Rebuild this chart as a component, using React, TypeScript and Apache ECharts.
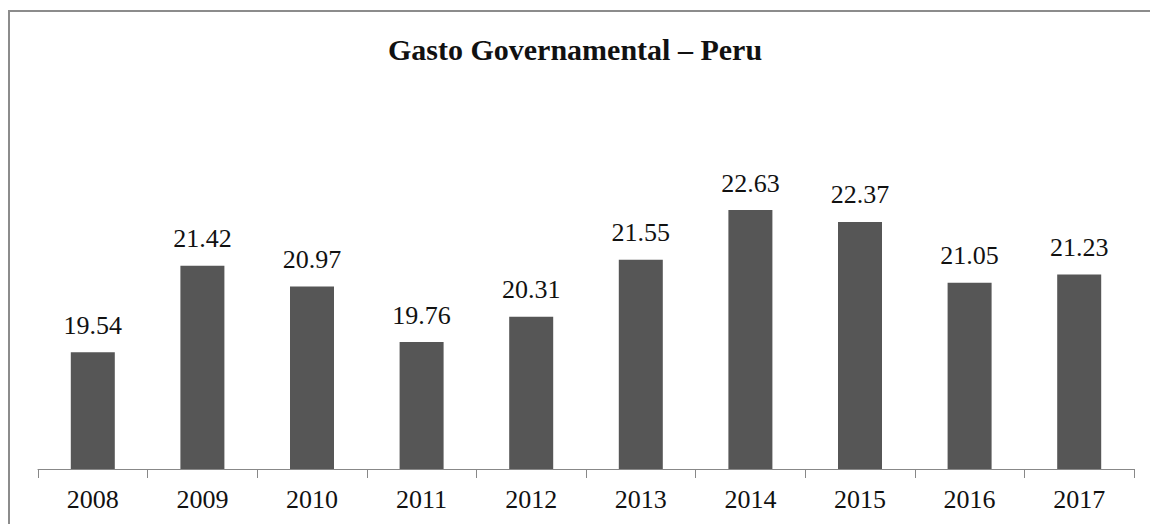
import React, { useEffect, useRef } from "react";
import * as echarts from "echarts";

const titleText = "Gasto Governamental – Peru";
const years = ["2008", "2009", "2010", "2011", "2012", "2013", "2014", "2015", "2016", "2017"];
const spending = [19.54, 21.42, 20.97, 19.76, 20.31, 21.55, 22.63, 22.37, 21.05, 21.23];

const serif = "Liberation Serif";

export default function App() {
  const ref = useRef<HTMLDivElement>(null);
  useEffect(() => {
    if (!ref.current) return;
    const chart = echarts.init(ref.current, undefined, { renderer: "svg" });
    chart.setOption({
      animation: false,
      backgroundColor: "#ffffff",
      title: {
        text: titleText,
        left: "center",
        top: 29,
        textStyle: { fontFamily: serif, fontSize: 30, fontWeight: "bold", color: "#111" },
      },
      graphic: [
        { type: "line", shape: { x1: 8, y1: 11, x2: 1150, y2: 11 }, style: { stroke: "#8c8c8c", lineWidth: 2 } },
        { type: "line", shape: { x1: 9, y1: 11, x2: 9, y2: 524 }, style: { stroke: "#8c8c8c", lineWidth: 2 } },
      ],
      grid: { left: 38, right: 16, top: 193, bottom: 55, containLabel: false },
      xAxis: {
        type: "category",
        data: years,
        boundaryGap: true,
        axisLine: { show: true, lineStyle: { color: "#888", width: 1 } },
        axisTick: { show: true, alignWithLabel: false, length: 9, lineStyle: { color: "#888" } },
        axisLabel: { fontFamily: serif, fontSize: 26, color: "#111", margin: 17 },
      },
      yAxis: {
        type: "value",
        min: 17,
        max: 23,
        show: false,
        splitLine: { show: false },
      },
      series: [
        {
          type: "bar",
          data: spending,
          barWidth: 44,
          itemStyle: { color: "#565656" },
          label: {
            show: true,
            position: "top",
            distance: 14,
            fontFamily: serif,
            fontSize: 26,
            color: "#111",
            formatter: (p: any) => p.value.toFixed(2),
          },
        },
      ],
    });
    return () => chart.dispose();
  }, []);
  return <div ref={ref} style={{ position: "fixed", left: 0, top: 0, width: 1150, height: 524 }} />;
}
